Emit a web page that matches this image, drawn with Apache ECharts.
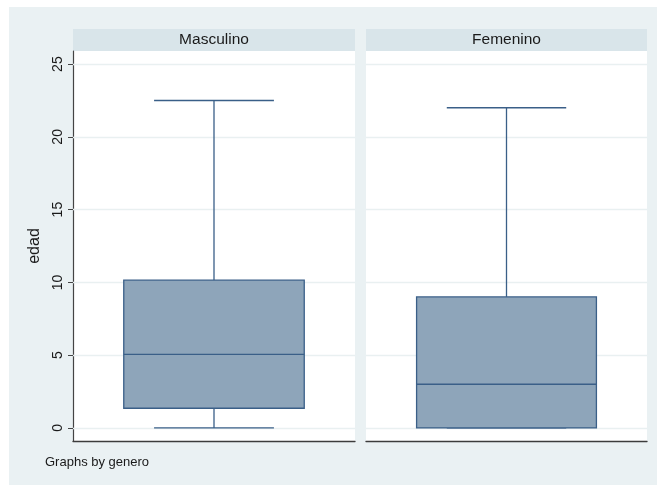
<!DOCTYPE html>
<html>
<head>
<meta charset="utf-8">
<style>
  html, body { margin: 0; padding: 0; background: #fff; }
  #chart { width: 657px; height: 485px; }
</style>
<script src="https://cdn.jsdelivr.net/npm/echarts@6/dist/echarts.min.js"></script>
</head>
<body>
<div id="chart"></div>
<script>
// boxplot of edad by genero
const groups = ["Masculino", "Femenino"];
const lowWhisker = [0, 0];
const q1 = [1.35, 0];
const median = [5.05, 3];
const q3 = [10.15, 9];
const highWhisker = [22.5, 22];
const yTicks = [0, 5, 10, 15, 20, 25];

const boxColor = "#8ea5ba";
const lineColor = "#3a5f88";

function renderBox(params, api) {
  const x = api.coord([0, 0])[0];
  const band = api.size([1, 0])[0];
  const boxW = band * 0.64;
  const capW = band * 0.425;
  const y = (v) => api.coord([0, api.value(v)])[1];
  const yLow = y(1), yQ1 = y(2), yMed = y(3), yQ3 = y(4), yHigh = y(5);
  const line = { stroke: lineColor, lineWidth: 1.3 };
  return {
    type: "group",
    children: [
      { type: "line", shape: { x1: x, y1: yHigh, x2: x, y2: yQ3 }, style: line },
      { type: "line", shape: { x1: x, y1: yQ1, x2: x, y2: yLow }, style: line },
      { type: "line", shape: { x1: x - capW / 2, y1: yHigh, x2: x + capW / 2, y2: yHigh }, style: line },
      { type: "line", shape: { x1: x - capW / 2, y1: yLow, x2: x + capW / 2, y2: yLow }, style: line },
      {
        type: "rect",
        shape: { x: x - boxW / 2, y: yQ3, width: boxW, height: yQ1 - yQ3 },
        style: { fill: boxColor, stroke: lineColor, lineWidth: 1.3 },
      },
      { type: "line", shape: { x1: x - boxW / 2, y1: yMed, x2: x + boxW / 2, y2: yMed }, style: line },
    ],
  };
}

const grids = [
  { left: 73, right: 302, top: 51, bottom: 44 },
  { left: 366, right: 10, top: 51, bottom: 44 },
];

const font = "Liberation Sans, Arial, sans-serif";

const option = {
  animation: false,
  backgroundColor: "#fff",
  grid: grids.map((g) => ({ ...g, show: true, backgroundColor: "#fff", borderWidth: 0 })),
  xAxis: groups.map((g, i) => ({
    type: "category",
    gridIndex: i,
    data: [g],
    axisLine: { show: true, onZero: false, lineStyle: { color: "#3c3c3c", width: 1.3 } },
    axisTick: { show: false },
    axisLabel: { show: false },
    splitLine: { show: false },
  })),
  yAxis: groups.map((g, i) => ({
    type: "value",
    gridIndex: i,
    min: -0.9,
    max: 25.9,
    name: i === 0 ? "edad" : "",
    nameLocation: "middle",
    nameGap: 30,
    nameTextStyle: { fontFamily: font, fontSize: 16, color: "#1a1a1a" },
    axisLine: { show: i === 0, onZero: false, lineStyle: { color: "#444", width: 1.2 } },
    axisTick: { show: i === 0, length: 5, customValues: yTicks, lineStyle: { color: "#444" } },
    axisLabel: {
      show: i === 0,
      customValues: yTicks,
      rotate: 90,
      margin: 8,
      fontFamily: font,
      fontSize: 14,
      color: "#1a1a1a",
    },
    splitLine: { show: false },
  })),
  series: groups.flatMap((g, i) => [
    {
      type: "line",
      xAxisIndex: i,
      yAxisIndex: i,
      data: [],
      silent: true,
      z: 1,
      markLine: {
        silent: true,
        symbol: "none",
        label: { show: false },
        lineStyle: { color: "#e9f0f1", width: 1.3, type: "solid" },
        data: yTicks.map((v) => ({ yAxis: v })),
      },
    },
    {
      type: "custom",
      xAxisIndex: i,
      yAxisIndex: i,
      z: 5,
      renderItem: renderBox,
      data: [[0, lowWhisker[i], q1[i], median[i], q3[i], highWhisker[i]]],
    },
  ]),
  graphic: [
    { type: "rect", z: -10, shape: { x: 9, y: 7, width: 648, height: 478 }, style: { fill: "#eaf1f3" } },
    ...grids.map((g, i) => {
      const x0 = g.left;
      const x1 = 657 - g.right;
      return {
        type: "group",
        children: [
          { type: "rect", shape: { x: x0, y: 29, width: x1 - x0, height: 22 }, style: { fill: "#d9e5ea" } },
          {
            type: "text",
            x: (x0 + x1) / 2,
            y: 40,
            style: { text: groups[i], fontFamily: font, fontSize: 15.5, fill: "#1a1a1a", align: "center", verticalAlign: "middle" },
          },
        ],
      };
    }),
    {
      type: "text",
      x: 45,
      y: 462,
      style: { text: "Graphs by genero", fontFamily: font, fontSize: 13, fill: "#1a1a1a", verticalAlign: "middle" },
    },
  ],
};

echarts.init(document.getElementById("chart")).setOption(option);
</script>
</body>
</html>
